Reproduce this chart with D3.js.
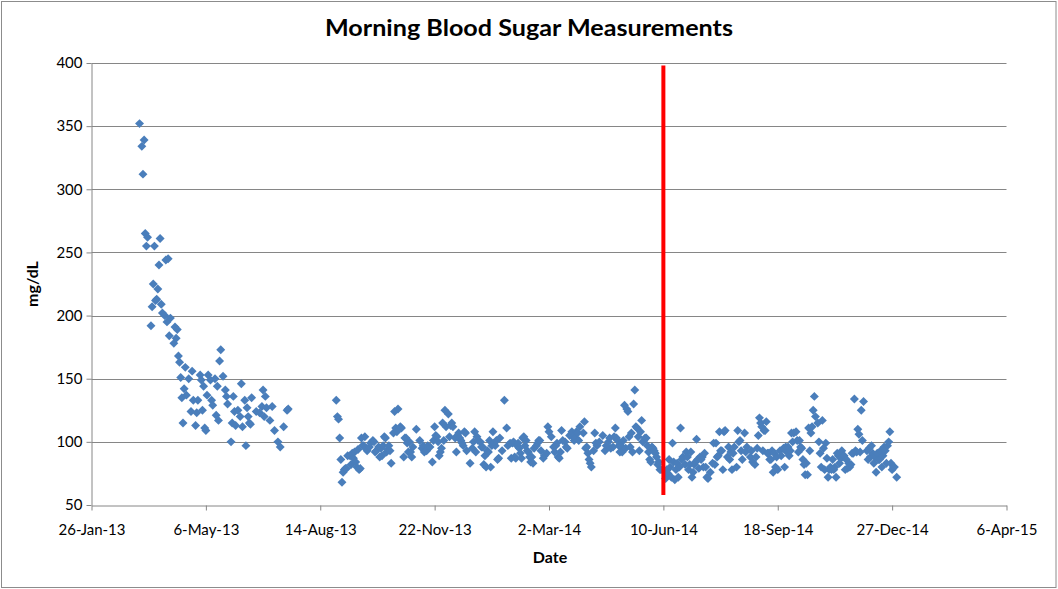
<!DOCTYPE html>
<html>
<head>
  <meta charset="utf-8">
  <title>Morning Blood Sugar Measurements</title>
  <style>
    body { margin: 0; background: #fff; }
    text { font-family: Lato, "Open Sans", sans-serif; fill: #000; }
  </style>
</head>
<body>
  <div id="chart"></div>
  <script src="https://cdn.jsdelivr.net/npm/d3@7"></script>
  <script type="text/javascript">
    // x values are Excel serial dates, as in the source workbook
    var xTicks = [41300, 41400, 41500, 41600, 41700, 41800, 41900, 42000, 42100];
    var yTicks = [50, 100, 150, 200, 250, 300, 350, 400];

    // [serial date, mg/dL]
    var readingsSpring2013 = [
      [41342,352],[41344,334],[41345,312],[41346,339],[41347,265],[41348,255],[41349,262],[41352,192],
      [41353,207],[41354,225],[41355,255],[41356,212],[41357,213],[41358,221],[41359,240],[41360,261],
      [41361,209],[41362,202],[41364,200],[41365,244],[41366,195],[41367,245],[41368,184],[41369,198],
      [41372,178],[41373,191],[41374,182],[41375,189],[41376,168],[41377,163],[41378,151],[41379,135],
      [41380,115],[41381,142],[41382,159],[41383,137],[41385,150],[41387,124],[41388,156],[41389,133],
      [41391,113],[41392,123],[41393,133],[41395,153],[41396,149],[41397,125],[41398,144],[41399,111],
      [41400,109],[41401,137],[41402,153],[41404,149],[41405,133],[41406,129],[41408,150],[41409,121],
      [41410,144],[41411,117],[41412,164],[41413,173],[41415,152],[41417,141],[41418,136],[41419,130],
      [41422,100],[41423,115],[41424,136],[41425,124],[41426,113],[41428,125],[41430,120],[41431,146],
      [41432,112],[41434,133],[41435,97],[41436,127],[41437,120],[41438,115],[41439,114],[41440,135],
      [41444,124],[41447,123],[41449,128],[41450,141],[41451,120],[41452,136],[41453,127],[41456,117],
      [41458,128],[41460,109],[41463,100],[41465,96],[41468,112],[41471,125],[41472,126]
    ];

    var readingsBefore = [
      [41514,133],[41515,120],[41516,118],[41517,103],[41518,86],[41519,68],[41520,76],[41521,78],
      [41522,79],[41523,79],[41524,89],[41526,89],[41527,82],[41528,91],[41529,87],[41530,92],
      [41531,84],[41532,80],[41533,94],[41534,78],[41535,79],[41536,103],[41537,97],[41538,97],
      [41539,104],[41540,95],[41541,93],[41543,96],[41544,99],[41546,101],[41547,100],[41548,92],
      [41549,93],[41551,96],[41552,88],[41553,95],[41554,89],[41555,97],[41556,104],[41557,103],
      [41558,92],[41559,94],[41560,97],[41561,93],[41562,83],[41564,107],[41565,124],[41566,111],
      [41567,108],[41568,126],[41570,112],[41571,111],[41573,88],[41574,103],[41575,103],[41576,99],
      [41577,92],[41578,100],[41579,92],[41580,88],[41581,96],[41584,110],[41587,101],[41589,95],
      [41590,97],[41591,92],[41593,93],[41594,97],[41596,96],[41598,84],[41599,101],[41600,112],
      [41601,105],[41602,104],[41603,100],[41604,89],[41605,92],[41606,95],[41607,115],[41608,101],
      [41609,125],[41610,112],[41612,122],[41613,104],[41614,113],[41615,115],[41616,112],[41618,103],
      [41619,92],[41620,105],[41621,107],[41622,103],[41623,101],[41624,99],[41625,97],[41626,108],
      [41627,107],[41628,93],[41631,83],[41633,95],[41634,100],[41635,108],[41636,92],[41637,104],
      [41638,101],[41640,100],[41641,96],[41642,96],[41643,82],[41644,89],[41645,80],[41646,93],
      [41647,92],[41648,101],[41649,80],[41650,97],[41651,108],[41652,99],[41653,97],[41654,101],
      [41655,86],[41656,87],[41657,103],[41659,93],[41661,133],[41663,111],[41664,97],[41666,99],
      [41667,87],[41668,99],[41669,100],[41670,88],[41671,87],[41672,97],[41673,99],[41674,95],
      [41675,91],[41676,87],[41677,103],[41678,104],[41679,97],[41680,101],[41681,93],[41682,92],
      [41683,88],[41684,84],[41685,88],[41686,83],[41687,95],[41689,97],[41690,99],[41691,101],
      [41692,101],[41693,93],[41695,87],[41696,89],[41698,91],[41699,112],[41700,108],[41702,104],
      [41704,96],[41705,92],[41706,97],[41707,99],[41708,88],[41709,87],[41710,92],[41711,109],
      [41712,101],[41714,100],[41715,96],[41716,95],[41718,105],[41720,108],[41721,104],[41722,101],
      [41723,103],[41724,108],[41725,107],[41726,101],[41727,112],[41730,107],[41731,116],[41732,95],
      [41733,96],[41734,91],[41735,86],[41736,83],[41737,80],[41739,93],[41740,107],[41741,99],
      [41742,97],[41744,100],[41747,105],[41749,93],[41750,97],[41752,100],[41753,103],[41754,95],
      [41756,96],[41757,104],[41758,111],[41759,103],[41760,101],[41761,97],[41762,92],[41763,97],
      [41764,92],[41765,101],[41766,129],[41767,95],[41768,126],[41769,124],[41770,104],[41771,96],
      [41772,107],[41773,92],[41774,130],[41775,141],[41776,112],[41777,111],[41778,104],[41779,93],
      [41780,108],[41781,117],[41782,100],[41783,101],[41784,103],[41785,103],[41786,97],[41787,92],
      [41788,86],[41789,84],[41790,96],[41791,95],[41792,93],[41793,91],[41794,88],[41795,82],
      [41796,84],[41797,78]
    ];

    var readingsAfter = [
      [41798,78],[41802,71],[41803,78],[41804,75],[41805,86],[41806,80],[41807,72],[41808,99],
      [41809,84],[41810,70],[41811,78],[41812,83],[41813,72],[41814,80],[41815,111],[41816,86],
      [41817,88],[41819,82],[41820,92],[41821,88],[41822,78],[41823,82],[41824,92],[41825,72],
      [41826,76],[41827,82],[41828,84],[41829,102],[41830,86],[41831,79],[41832,88],[41833,86],
      [41834,88],[41835,80],[41836,91],[41837,80],[41838,72],[41839,71],[41841,76],[41843,83],
      [41844,99],[41845,82],[41846,99],[41847,88],[41848,89],[41849,108],[41850,93],[41851,93],
      [41852,78],[41853,108],[41854,109],[41856,88],[41857,96],[41858,86],[41859,92],[41860,78],
      [41861,91],[41862,96],[41864,80],[41865,109],[41866,100],[41867,101],[41868,93],[41869,86],
      [41871,107],[41872,92],[41873,96],[41876,88],[41877,93],[41878,84],[41880,82],[41881,88],
      [41882,95],[41883,105],[41884,119],[41885,115],[41886,112],[41887,93],[41888,109],[41889,109],
      [41890,116],[41891,91],[41892,91],[41893,86],[41894,86],[41895,93],[41896,76],[41897,91],
      [41898,80],[41899,88],[41900,78],[41902,93],[41903,89],[41905,95],[41906,80],[41907,96],
      [41908,92],[41909,96],[41910,89],[41911,93],[41912,107],[41913,100],[41914,107],[41916,108],
      [41917,101],[41918,92],[41919,101],[41920,96],[41921,95],[41922,86],[41923,82],[41924,74],
      [41925,83],[41926,74],[41927,111],[41928,93],[41929,107],[41930,112],[41931,125],[41932,136],
      [41933,120],[41935,115],[41936,100],[41937,91],[41938,80],[41939,117],[41940,95],[41941,78],
      [41942,99],[41943,87],[41944,72],[41945,78],[41946,80],[41947,78],[41948,86],[41949,78],
      [41950,80],[41951,72],[41952,91],[41953,89],[41954,83],[41955,87],[41956,93],[41957,88],
      [41958,89],[41959,78],[41960,86],[41961,79],[41962,83],[41963,80],[41964,82],[41965,91],
      [41966,91],[41967,134],[41968,93],[41969,92],[41970,110],[41971,106],[41972,92],[41973,125],
      [41974,101],[41975,132],[41978,93],[41979,86],[41980,95],[41981,88],[41982,97],[41983,91],
      [41984,83],[41985,88],[41986,76],[41987,91],[41988,86],[41989,86],[41990,93],[41991,80],
      [41992,89],[41993,96],[41994,93],[41995,83],[41996,97],[41997,100],[41998,108],[41999,83],
      [42000,78],[42001,80],[42002,80],[42004,72]
    ];

    // red marker line on 10-Jun-14
    var markerDate = 41800;
    var markerRange = [58, 398];

    var w = 1058;
    var h = 589;
    var plotLeft = 91.5, plotRight = 1006.5, plotTop = 63, plotBottom = 505;
    var gridColor = "#868686";

    var excelEpoch = Date.UTC(1899, 11, 30);
    function fromSerial(s) {
      return new Date(excelEpoch + s * 864e5);
    }

    var x = d3.scaleUtc()
      .domain([fromSerial(xTicks[0]), fromSerial(xTicks[xTicks.length - 1])])
      .range([plotLeft, plotRight]);

    var y = d3.scaleLinear()
      .domain([yTicks[0], yTicks[yTicks.length - 1]])
      .range([plotBottom, plotTop]);

    var svg = d3.select("#chart")
      .append("svg")
      .attr("width", w)
      .attr("height", h);

    svg.append("rect")
      .attr("x", 0).attr("y", 0)
      .attr("width", w).attr("height", h)
      .attr("fill", "#fff");

    svg.append("rect")
      .attr("x", 1.5).attr("y", 1.5)
      .attr("width", w - 3.5).attr("height", h - 3)
      .attr("fill", "none")
      .attr("stroke", "#8c8c8c")
      .attr("stroke-width", 1);

    // horizontal gridlines
    svg.append("g")
      .selectAll("line")
      .data(yTicks.slice(1))
      .enter()
      .append("line")
      .attr("x1", plotLeft)
      .attr("x2", plotRight)
      .attr("y1", function(d) { return Math.round(y(d)) + 0.5; })
      .attr("y2", function(d) { return Math.round(y(d)) + 0.5; })
      .attr("stroke", gridColor)
      .attr("stroke-width", 1);

    var xAxis = svg.append("g")
      .attr("transform", "translate(0," + (plotBottom + 0.5) + ")")
      .call(d3.axisBottom(x)
        .tickValues(xTicks.map(fromSerial))
        .tickFormat(d3.utcFormat("%-d-%b-%y"))
        .tickSize(5)
        .tickSizeOuter(0)
        .tickPadding(14));

    var yAxis = svg.append("g")
      .attr("transform", "translate(" + plotLeft + ",0)")
      .call(d3.axisLeft(y)
        .tickValues(yTicks)
        .tickSize(5)
        .tickSizeOuter(0)
        .tickPadding(4));

    [xAxis, yAxis].forEach(function(g) {
      g.select(".domain").attr("stroke", gridColor);
      g.selectAll(".tick line").attr("stroke", gridColor);
      g.selectAll(".tick text")
        .attr("fill", "#000")
        .style("font-family", "Lato, sans-serif")
        .style("font-size", "15px");
    });

    var diamond = d3.symbol().type(d3.symbolSquare).size(40);

    var all = readingsSpring2013.concat(readingsBefore, readingsAfter);

    svg.append("g")
      .selectAll("path")
      .data(all)
      .enter()
      .append("path")
      .attr("d", diamond)
      .attr("transform", function(d) {
        return "translate(" + x(fromSerial(d[0])) + "," + y(d[1]) + ") rotate(45)";
      })
      .attr("fill", "#4a7ebb");

    svg.append("line")
      .attr("x1", x(fromSerial(markerDate)))
      .attr("x2", x(fromSerial(markerDate)))
      .attr("y1", y(markerRange[0]))
      .attr("y2", y(markerRange[1]))
      .attr("stroke", "#ff0000")
      .attr("stroke-width", 4);

    svg.append("text")
      .attr("x", 529)
      .attr("y", 36)
      .attr("text-anchor", "middle")
      .attr("textLength", 408)
      .attr("lengthAdjust", "spacingAndGlyphs")
      .style("font-size", "22px")
      .style("font-weight", "bold")
      .text("Morning Blood Sugar Measurements");

    svg.append("text")
      .attr("x", 550)
      .attr("y", 563)
      .attr("text-anchor", "middle")
      .style("font-size", "16px")
      .style("font-weight", "bold")
      .text("Date");

    svg.append("text")
      .attr("transform", "translate(38,284) rotate(-90)")
      .attr("text-anchor", "middle")
      .style("font-size", "16px")
      .style("font-weight", "bold")
      .text("mg/dL");
  </script>
</body>
</html>
